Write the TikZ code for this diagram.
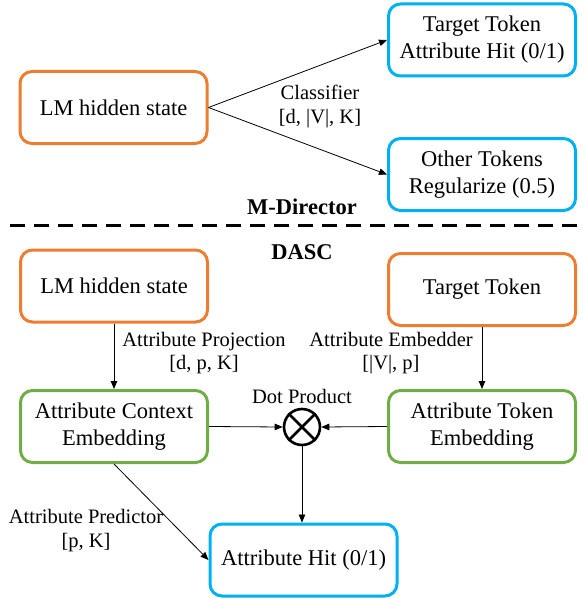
\documentclass[tikz,border=0pt]{standalone}
\usepackage{fontspec}
\setmainfont{Liberation Serif}
\usetikzlibrary{arrows.meta}
\definecolor{org}{HTML}{ED7D31}
\definecolor{grn}{HTML}{70AD47}
\definecolor{blu}{HTML}{00B0F0}
\begin{document}
\begin{tikzpicture}[x=1pt,y=-1pt,
  box/.style={draw, line width=3pt, rounded corners=12pt, minimum width=187pt, minimum height=72pt, align=center, inner sep=2pt, font=\fontsize{22.5}{27}\selectfont},
  obox/.style={box, draw=org},
  gbox/.style={box, draw=grn},
  bbox/.style={box, draw=blu},
  lbl/.style={align=center, inner sep=0pt, font=\fontsize{20.5}{23.5}\selectfont},
  ttl/.style={inner sep=0pt, font=\fontsize{22.5}{27}\selectfont\bfseries},
  arr/.style={-{Triangle[length=8pt,width=6.5pt]}, line width=0.8pt},
  ]
\useasboundingbox (0,0) rectangle (584,599);
% top section
\node[obox] (lm1) at (113.5,107.5) {LM hidden state};
\node[bbox] (tgt1) at (482,40) {Target Token\\Attribute Hit (0/1)};
\node[bbox] (oth1) at (482,174.5) {Other Tokens\\Regularize (0.5)};
\draw[arr] (lm1.east) -- (tgt1.west);
\draw[arr] (lm1.east) -- (oth1.west);
\node[lbl] (cls) at (320,106.5) {Classifier\\{}[d, |V|, K]};
\node[ttl] (md) at (302,207) {M-Director};
\coordinate (dl) at (10,225);
\coordinate (dr) at (584,225);
\draw[line width=3pt, dash pattern=on 15pt off 9pt] (dl) -- (dr);
% bottom section
\node[ttl] (dasc) at (302,252) {DASC};
\node[obox] (lm2) at (114,286) {LM hidden state};
\node[obox] (tt2) at (482,289.5) {Target Token};
\node[gbox] (ace) at (114,426.5) {Attribute Context\\Embedding};
\node[gbox] (ate) at (482,426.5) {Attribute Token\\Embedding};
\node[draw, circle, line width=2.6pt, minimum size=36pt, inner sep=0pt] (dot) at (302,427) {};
\draw[line width=2.6pt] (dot.north west) -- (dot.south east) (dot.north east) -- (dot.south west);
\node[lbl] (dp) at (302,396) {Dot Product};
\node[bbox] (hit) at (303.5,560) {Attribute Hit (0/1)};
\draw[arr] (lm2) -- (ace);
\draw[arr] (tt2) -- (ate);
\draw[arr] (ace.east) -- (dot.west);
\draw[arr] (ate.west) -- (dot.east);
\draw[arr] (dot.south) -- (hit.north -| dot.south);
\draw[arr] (ace.south) -- (hit.west);
\node[lbl] (ap) at (204,353) {Attribute Projection\\{}[d, p, K]};
\node[lbl] (ae) at (391,353) {Attribute Embedder\\{}[|V|, p]};
\node[lbl] (apr) at (86,530.5) {Attribute Predictor\\{}[p, K]};
\end{tikzpicture}
\end{document}
